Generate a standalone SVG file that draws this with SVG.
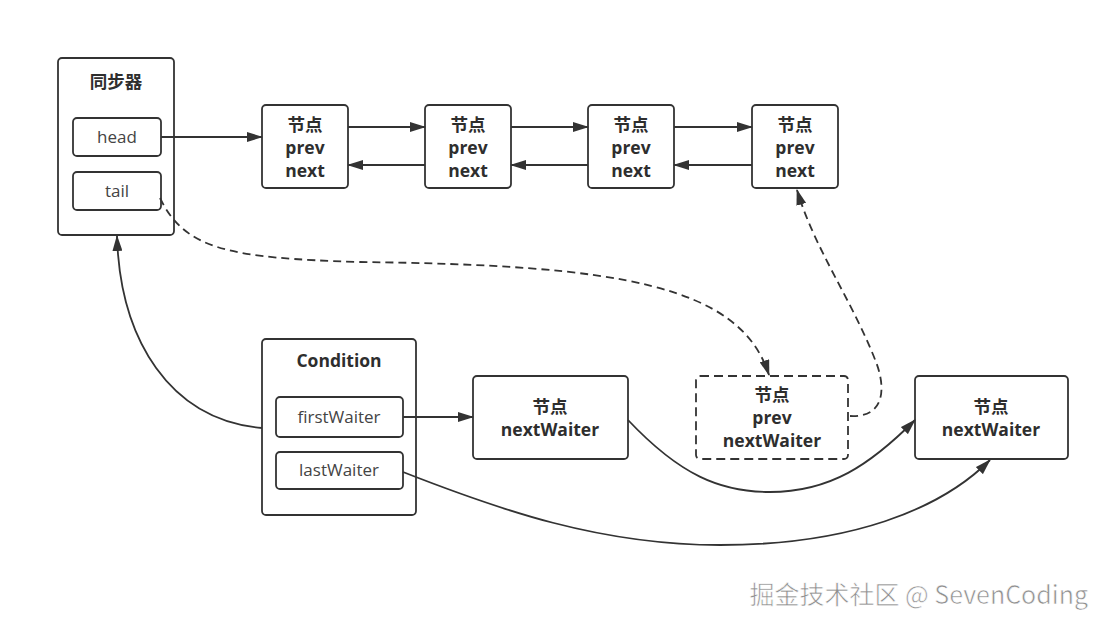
<svg xmlns="http://www.w3.org/2000/svg" width="1106" height="628" viewBox="0 0 1106 628">
<style>
.box{fill:#fff;stroke:#333;stroke-width:1.8}
.dbox{fill:#fff;stroke:#333;stroke-width:1.8;stroke-dasharray:9 5}
.b{font-family:"Open Sans","Noto Sans CJK SC",sans-serif;font-weight:bold;font-size:17.5px;fill:#2e2e2e;text-anchor:middle}
.n{font-family:"Open Sans","Noto Sans CJK SC",sans-serif;font-size:17px;fill:#444;text-anchor:middle}
.ln{fill:none;stroke:#333;stroke-width:1.8}
.dl{fill:none;stroke:#333;stroke-width:1.8;stroke-dasharray:8 5}
.wm{font-family:"Noto Sans CJK SC","Open Sans",sans-serif;font-size:25px;fill:#8f8f8f;stroke:#fff;stroke-width:0.6;text-anchor:end}
</style>
<defs>
<marker id="ah" viewBox="0 0 16 10" refX="15" refY="5" markerWidth="16" markerHeight="10" markerUnits="userSpaceOnUse" orient="auto">
<path d="M0,0 L16,5 L0,10 Z" fill="#333"/>
</marker>
</defs>
<rect width="1106" height="628" fill="#fff"/>

<g id="sync">
<rect class="box" x="58" y="58" width="116" height="177" rx="4"/>
<text class="b" x="116" y="88">同步器</text>
<rect class="box" x="73" y="118" width="88" height="38" rx="4"/>
<text class="n" x="117" y="143">head</text>
<rect class="box" x="73" y="172" width="88" height="38" rx="4"/>
<text class="n" x="117" y="197">tail</text>
</g>

<g id="node1">
<rect class="box" x="262" y="105" width="86" height="83" rx="4"/>
<text class="b" x="305" y="131">节点</text>
<text class="b" x="305" y="154">prev</text>
<text class="b" x="305" y="177">next</text>
</g>
<g id="node2">
<rect class="box" x="425" y="105" width="86" height="83" rx="4"/>
<text class="b" x="468" y="131">节点</text>
<text class="b" x="468" y="154">prev</text>
<text class="b" x="468" y="177">next</text>
</g>
<g id="node3">
<rect class="box" x="588" y="105" width="86" height="83" rx="4"/>
<text class="b" x="631" y="131">节点</text>
<text class="b" x="631" y="154">prev</text>
<text class="b" x="631" y="177">next</text>
</g>
<g id="node4">
<rect class="box" x="752" y="105" width="86" height="83" rx="4"/>
<text class="b" x="795" y="131">节点</text>
<text class="b" x="795" y="154">prev</text>
<text class="b" x="795" y="177">next</text>
</g>

<g id="condition">
<rect class="box" x="262" y="339" width="154" height="176" rx="4"/>
<text class="b" x="339" y="367">Condition</text>
<rect class="box" x="276" y="397" width="127" height="40" rx="4"/>
<text class="n" x="339" y="423">firstWaiter</text>
<rect class="box" x="276" y="452" width="127" height="37" rx="4"/>
<text class="n" x="339" y="476">lastWaiter</text>
</g>

<g id="waiter1">
<rect class="box" x="473" y="376" width="155" height="83" rx="4"/>
<text class="b" x="550" y="413">节点</text>
<text class="b" x="550" y="436">nextWaiter</text>
</g>
<g id="waiter2">
<rect class="dbox" x="696" y="376" width="152" height="83" rx="4"/>
<text class="b" x="772" y="401">节点</text>
<text class="b" x="772" y="424">prev</text>
<text class="b" x="772" y="447">nextWaiter</text>
</g>
<g id="waiter3">
<rect class="box" x="915" y="376" width="153" height="83" rx="4"/>
<text class="b" x="991" y="413">节点</text>
<text class="b" x="991" y="436">nextWaiter</text>
</g>

<g id="connectors">
<path class="ln" d="M161,137 L262,137" marker-end="url(#ah)"/>
<path class="ln" d="M348,127 L425,127" marker-end="url(#ah)"/>
<path class="ln" d="M425,165 L348,165" marker-end="url(#ah)"/>
<path class="ln" d="M511,127 L588,127" marker-end="url(#ah)"/>
<path class="ln" d="M588,165 L511,165" marker-end="url(#ah)"/>
<path class="ln" d="M674,127 L752,127" marker-end="url(#ah)"/>
<path class="ln" d="M752,165 L674,165" marker-end="url(#ah)"/>
<path class="dl" d="M160,198 C185,250 230,258 360,262 C620,265 740,285 769,375" marker-end="url(#ah)"/>
<path class="dl" d="M850,416 C885,418 886,388 876,362 C852,300 815,250 797,190" marker-end="url(#ah)"/>
<path class="ln" d="M262,428 C170,420 120,340 117,236" marker-end="url(#ah)"/>
<path class="ln" d="M403,417 L473,417" marker-end="url(#ah)"/>
<path class="ln" d="M628,420 C680,475 720,492 770,492 C830,492 870,465 915,420" marker-end="url(#ah)"/>
<path class="ln" d="M403,472 C500,510 600,545 720,545 C850,545 940,510 990,460" marker-end="url(#ah)"/>
</g>

<text class="wm" x="1088" y="604">掘金技术社区 @ SevenCoding</text>
</svg>
